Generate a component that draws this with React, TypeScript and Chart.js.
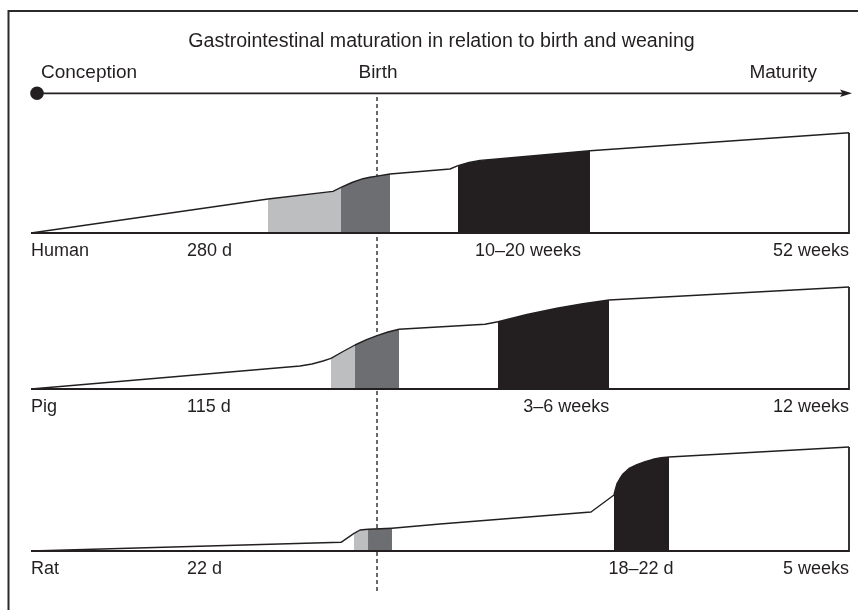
import React, { useEffect, useRef } from "react";
import { Chart, registerables } from "chart.js";

Chart.register(...registerables);

const INK = "#231f20";
const LIGHT = "#bcbec0";
const DARK = "#6d6e71";
const FONT = "'Liberation Sans', Arial, sans-serif";

const TITLE = "Gastrointestinal maturation in relation to birth and weaning";
const TIMELINE = ["Conception", "Birth", "Maturity"];

const SPECIES = ["Human", "Pig", "Rat"];
const GESTATION = ["280 d", "115 d", "22 d"];
const WEANING = ["10–20 weeks", "3–6 weeks", "18–22 d"];
const MATURITY = ["52 weeks", "12 weeks", "5 weeks"];

// vertical offset of each panel's baseline (maturation units)
const PANEL_BASE = [318, 162, 0];

// relative developmental time (0 = conception, 100 = maturity) vs maturation level
const HUMAN_X = [0, 28.97, 36.92, 37.9, 39.24, 40.59, 41.44, 42.3, 43.89, 51.22, 52.2, 53.55, 54.89, 57.33, 68.34, 100];
const HUMAN_Y = [0, 34, 41.6, 45.6, 50.5, 54.3, 55.8, 56.9, 59, 64, 67.3, 70.5, 72.6, 74.3, 82.3, 100.3];

const PIG_X = [0, 32.89, 34.35, 35.7, 36.67, 38.14, 39.61, 40.95, 42.3, 43.64, 44.99, 55.5, 57.09, 60.64, 64.3, 67.48, 70.66, 100];
const PIG_Y = [0, 23, 25, 28, 30.7, 37.5, 44, 49.2, 53.3, 57, 59.7, 64.7, 67.3, 74.5, 80.7, 85.3, 89, 102];

const RAT_X = [0, 37.9, 39.49, 40.22, 41.2, 44.13, 50.0, 68.46, 71.27, 71.45, 71.64, 72.0, 72.37, 73.11, 74.08, 75.06, 76.04, 77.02, 78.0, 100];
const RAT_Y = [0, 8.7, 17.7, 21, 21.7, 22.7, 27, 39, 56, 62, 67.4, 72.5, 77, 82.5, 86.4, 89.3, 91.7, 93.2, 94, 104];

const CURVE_X = [HUMAN_X, PIG_X, RAT_X];
const CURVE_Y = [HUMAN_Y, PIG_Y, RAT_Y];

// phases: late gestation, perinatal, weaning
const LATE_GESTATION = [[28.97, 37.9], [36.67, 39.61], [39.49, 41.2]];
const PERINATAL = [[37.9, 43.89], [39.61, 44.99], [41.2, 44.13]];
const WEANING_PHASE = [[52.2, 68.34], [57.09, 70.66], [71.27, 78.0]];

const BIRTH_X = 42.3;
const GESTATION_LABEL_X = 19.07;
const WEANING_LABEL_X = [60.76, 65.44, 74.57];

function phaseColor(panel: number, mid: number): string {
  const inside = (r: number[]) => mid >= r[0] && mid <= r[1];
  if (inside(LATE_GESTATION[panel])) return LIGHT;
  if (inside(PERINATAL[panel])) return DARK;
  if (inside(WEANING_PHASE[panel])) return INK;
  return "#ffffff";
}

export default function App() {
  const ref = useRef<HTMLCanvasElement | null>(null);

  useEffect(() => {
    if (!ref.current) return;
    const datasets: any[] = [];
    // outlines (baseline + right edge) first so they are drawn on top
    for (let i = 0; i < 3; i++) {
      const base = PANEL_BASE[i];
      const ys = CURVE_Y[i];
      datasets.push({
        data: [
          { x: 0, y: base },
          { x: 100, y: base },
          { x: 100, y: base + ys[ys.length - 1] },
        ],
        borderColor: INK,
        borderWidth: 1.8,
        pointRadius: 0,
        fill: false,
        tension: 0,
        clip: false,
      });
    }
    for (let i = 0; i < 3; i++) {
      const base = PANEL_BASE[i];
      const xs = CURVE_X[i];
      const ys = CURVE_Y[i];
      datasets.push({
        data: xs.map((x, j) => ({ x, y: base + ys[j] })),
        borderColor: INK,
        borderWidth: 1.4,
        borderJoinStyle: "round",
        backgroundColor: "#ffffff",
        fill: { value: base },
        tension: 0,
        pointRadius: 0,
        clip: false,
        segment: {
          backgroundColor: (ctx: any) =>
            phaseColor(i, (xs[ctx.p0DataIndex] + xs[ctx.p1DataIndex]) / 2),
        },
      });
    }

    const decor = {
      id: "decor",
      beforeDatasetsDraw(chart: any) {
        const c = chart.ctx;
        const xb = chart.scales.x.getPixelForValue(BIRTH_X);
        c.save();
        c.strokeStyle = "#2a2a2a";
        c.lineWidth = 1.4;
        c.setLineDash([4, 3]);
        c.beginPath();
        c.moveTo(xb, 97);
        c.lineTo(xb, 594);
        c.stroke();
        c.restore();
      },
      afterDraw(chart: any) {
        const c = chart.ctx;
        const xs = chart.scales.x;
        const ys = chart.scales.y;
        c.save();
        // frame
        c.strokeStyle = "#2a2a2a";
        c.lineWidth = 2;
        c.beginPath();
        c.moveTo(8.5, 610);
        c.lineTo(8.5, 11);
        c.lineTo(858, 11);
        c.stroke();

        c.fillStyle = INK;
        c.textBaseline = "alphabetic";
        c.font = `19.6px ${FONT}`;
        c.textAlign = "center";
        c.fillText(TITLE, 441.5, 47);
        c.font = `19px ${FONT}`;
        c.textAlign = "left";
        c.fillText(TIMELINE[0], 41, 77.5);
        c.textAlign = "center";
        c.fillText(TIMELINE[1], xs.getPixelForValue(BIRTH_X) + 1, 77.5);
        c.textAlign = "right";
        c.fillText(TIMELINE[2], 817, 77.5);

        // timeline arrow
        c.strokeStyle = INK;
        c.lineWidth = 1.8;
        c.beginPath();
        c.moveTo(37, 93.3);
        c.lineTo(845, 93.3);
        c.stroke();
        c.beginPath();
        c.moveTo(852, 93.3);
        c.lineTo(840, 89.5);
        c.lineTo(842.5, 93.3);
        c.lineTo(840, 97.1);
        c.closePath();
        c.fill();
        c.beginPath();
        c.arc(37, 93.3, 6.8, 0, Math.PI * 2);
        c.fill();

        // panel labels
        c.font = `18px ${FONT}`;
        for (let i = 0; i < 3; i++) {
          const yb = ys.getPixelForValue(PANEL_BASE[i]) + 23;
          c.textAlign = "left";
          c.fillText(SPECIES[i], xs.getPixelForValue(0), yb);
          c.fillText(GESTATION[i], xs.getPixelForValue(GESTATION_LABEL_X), yb);
          c.textAlign = "center";
          c.fillText(WEANING[i], xs.getPixelForValue(WEANING_LABEL_X[i]), yb);
          c.textAlign = "right";
          c.fillText(MATURITY[i], xs.getPixelForValue(100), yb);
        }
        c.restore();
      },
    };

    const chart = new Chart(ref.current, {
      type: "line",
      data: { datasets },
      options: {
        animation: false,
        responsive: false,
        devicePixelRatio: 1,
        layout: { padding: { left: 31, right: 9, top: 131, bottom: 59 } },
        plugins: { legend: { display: false }, tooltip: { enabled: false }, title: { display: false } },
        scales: {
          x: { type: "linear", min: 0, max: 100, display: false },
          y: { type: "linear", min: 0, max: 420, display: false },
        },
        events: [],
      } as any,
      plugins: [decor],
    });
    return () => chart.destroy();
  }, []);

  return (
    <div style={{ position: "absolute", left: 0, top: 0, width: 858, height: 610, background: "#fff" }}>
      <canvas ref={ref} width={858} height={610} style={{ display: "block" }} />
    </div>
  );
}
